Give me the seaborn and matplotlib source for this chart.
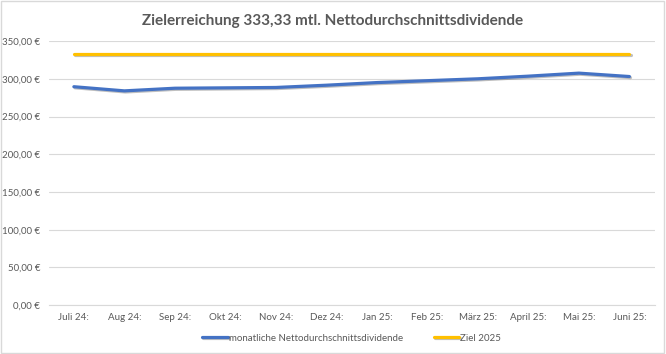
import pandas as pd
import matplotlib.pyplot as plt
import matplotlib.patheffects as pe
import seaborn as sns

monate = ['Juli 24:', 'Aug 24:', 'Sep 24:', 'Okt 24:', 'Nov 24:', 'Dez 24:',
          'Jan 25:', 'Feb 25:', 'März 25:', 'April 25:', 'Mai 25:', 'Juni 25:']
dividende = [289.5, 284.0, 287.5, 288.0, 288.5, 291.5, 295.0, 297.5, 300.0, 303.5, 307.5, 303.0]
ziel = [333.33] * 12
serien = ['monatliche Nettodurchschnittsdividende', 'Ziel 2025']
farben = ['#4472C4', '#FFC000']

df = pd.concat([
    pd.DataFrame({'Monat': monate, 'Wert': dividende, 'Serie': serien[0]}),
    pd.DataFrame({'Monat': monate, 'Wert': ziel, 'Serie': serien[1]}),
])

sns.set_style('white')
plt.rcParams['font.family'] = ['Lato', 'DejaVu Sans']

fig, ax = plt.subplots(figsize=(6.66, 3.54), dpi=100)
fig.subplots_adjust(left=0.073, right=0.983, top=0.884, bottom=0.138)

sns.lineplot(data=df, x='Monat', y='Wert', hue='Serie', palette=farben,
             linewidth=2.3, sort=False, ax=ax, legend=True)
for line in ax.lines:
    line.set_path_effects([pe.SimpleLineShadow(offset=(0.8, -0.8), alpha=0.25), pe.Normal()])

ax.set_ylim(0, 350)
ax.set_yticks(range(0, 351, 50))
ax.set_yticklabels([f'{v:.2f} €'.replace('.', ',') for v in range(0, 351, 50)])
ax.set_xlim(-0.5, len(monate) - 0.5)
ax.grid(axis='y', color='#D9D9D9', linewidth=0.8)
ax.set_axisbelow(True)
for s in ['top', 'right', 'left']:
    ax.spines[s].set_visible(False)
ax.spines['bottom'].set_color('#D9D9D9')
ax.tick_params(axis='both', length=0, labelsize=7, labelcolor='#595959', pad=6)
ax.set_xlabel('')
ax.set_ylabel('')

fig.suptitle('Zielerreichung 333,33 mtl. Nettodurchschnittsdividende',
             fontsize=11, fontweight='bold', color='#595959', y=0.96)

h, l = ax.get_legend_handles_labels()
ax.legend(h, l, loc='upper center', bbox_to_anchor=(0.5, -0.075), ncol=2,
          frameon=False, fontsize=7, labelcolor='#595959', handlelength=2.6,
          handletextpad=0.1, columnspacing=3.2)

fig.patches.append(plt.Rectangle((0.002, 0.003), 0.995, 0.993, transform=fig.transFigure,
                                 fill=False, edgecolor='#D9D9D9', linewidth=1))

fig.savefig('out.png', dpi=100)
